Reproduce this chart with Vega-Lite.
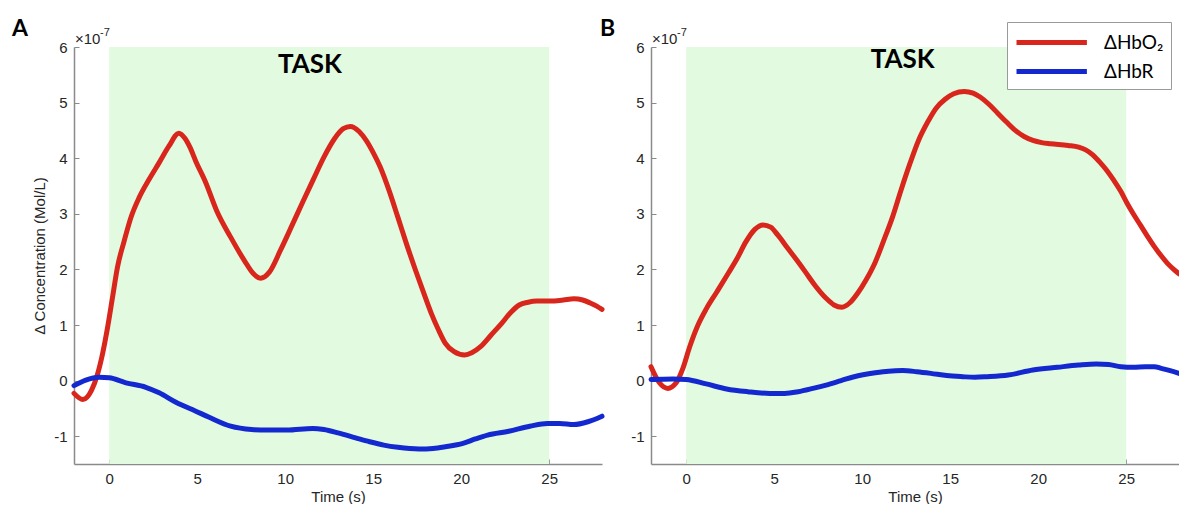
{
  "$schema": "https://vega.github.io/schema/vega-lite/v6.json",
  "background": "white",
  "padding": {"left": 12, "top": 18, "right": 0, "bottom": 0},
  "spacing": -5,
  "config": {
    "view": {"stroke": null},
    "font": "Liberation Sans",
    "axis": {
      "grid": false,
      "domainColor": "#8a8a8a",
      "domainWidth": 1.5,
      "tickColor": "#8a8a8a",
      "tickSize": -5,
      "tickWidth": 1,
      "labelFont": "Liberation Sans",
      "labelFontSize": 15,
      "labelColor": "#262626",
      "titleFont": "Liberation Sans",
      "titleFontSize": 15,
      "titleFontWeight": "normal",
      "titleColor": "#262626"
    },
    "axisX": {"labelPadding": 12, "titlePadding": 3},
    "axisY": {"labelPadding": 12, "titlePadding": 6, "format": "d", "labelExpr": "replace(datum.label, '−', '-')"}
  },
  "datasets": {
    "task": [{"start": 0, "end": 25}],
    "A": [
      {"t": -2, "conc": -0.23, "signal": "ΔHbO₂"},
      {"t": -1.5, "conc": -0.34, "signal": "ΔHbO₂"},
      {"t": -1.0, "conc": -0.17, "signal": "ΔHbO₂"},
      {"t": -0.66, "conc": 0.12, "signal": "ΔHbO₂"},
      {"t": -0.38, "conc": 0.48, "signal": "ΔHbO₂"},
      {"t": -0.09, "conc": 0.96, "signal": "ΔHbO₂"},
      {"t": 0.19, "conc": 1.5, "signal": "ΔHbO₂"},
      {"t": 0.47, "conc": 2.04, "signal": "ΔHbO₂"},
      {"t": 0.85, "conc": 2.51, "signal": "ΔHbO₂"},
      {"t": 1.23, "conc": 2.93, "signal": "ΔHbO₂"},
      {"t": 1.7, "conc": 3.29, "signal": "ΔHbO₂"},
      {"t": 2.27, "conc": 3.62, "signal": "ΔHbO₂"},
      {"t": 2.84, "conc": 3.92, "signal": "ΔHbO₂"},
      {"t": 3.4, "conc": 4.22, "signal": "ΔHbO₂"},
      {"t": 3.95, "conc": 4.45, "signal": "ΔHbO₂"},
      {"t": 4.3, "conc": 4.36, "signal": "ΔHbO₂"},
      {"t": 4.6, "conc": 4.19, "signal": "ΔHbO₂"},
      {"t": 4.9, "conc": 3.96, "signal": "ΔHbO₂"},
      {"t": 5.5, "conc": 3.55, "signal": "ΔHbO₂"},
      {"t": 6.1, "conc": 3.06, "signal": "ΔHbO₂"},
      {"t": 6.9, "conc": 2.58, "signal": "ΔHbO₂"},
      {"t": 7.7, "conc": 2.15, "signal": "ΔHbO₂"},
      {"t": 8.2, "conc": 1.92, "signal": "ΔHbO₂"},
      {"t": 8.6, "conc": 1.84, "signal": "ΔHbO₂"},
      {"t": 9.1, "conc": 1.95, "signal": "ΔHbO₂"},
      {"t": 9.74, "conc": 2.35, "signal": "ΔHbO₂"},
      {"t": 10.4, "conc": 2.8, "signal": "ΔHbO₂"},
      {"t": 10.95, "conc": 3.18, "signal": "ΔHbO₂"},
      {"t": 11.6, "conc": 3.62, "signal": "ΔHbO₂"},
      {"t": 12.2, "conc": 4.02, "signal": "ΔHbO₂"},
      {"t": 12.8, "conc": 4.35, "signal": "ΔHbO₂"},
      {"t": 13.3, "conc": 4.53, "signal": "ΔHbO₂"},
      {"t": 13.7, "conc": 4.57, "signal": "ΔHbO₂"},
      {"t": 14.2, "conc": 4.48, "signal": "ΔHbO₂"},
      {"t": 14.6, "conc": 4.32, "signal": "ΔHbO₂"},
      {"t": 15.0, "conc": 4.1, "signal": "ΔHbO₂"},
      {"t": 15.4, "conc": 3.84, "signal": "ΔHbO₂"},
      {"t": 15.9, "conc": 3.42, "signal": "ΔHbO₂"},
      {"t": 16.4, "conc": 2.94, "signal": "ΔHbO₂"},
      {"t": 16.9, "conc": 2.45, "signal": "ΔHbO₂"},
      {"t": 17.4, "conc": 1.99, "signal": "ΔHbO₂"},
      {"t": 17.9, "conc": 1.55, "signal": "ΔHbO₂"},
      {"t": 18.3, "conc": 1.21, "signal": "ΔHbO₂"},
      {"t": 18.7, "conc": 0.92, "signal": "ΔHbO₂"},
      {"t": 19.1, "conc": 0.67, "signal": "ΔHbO₂"},
      {"t": 19.6, "conc": 0.52, "signal": "ΔHbO₂"},
      {"t": 20.2, "conc": 0.46, "signal": "ΔHbO₂"},
      {"t": 20.6, "conc": 0.5, "signal": "ΔHbO₂"},
      {"t": 21.1, "conc": 0.61, "signal": "ΔHbO₂"},
      {"t": 21.7, "conc": 0.82, "signal": "ΔHbO₂"},
      {"t": 22.3, "conc": 1.03, "signal": "ΔHbO₂"},
      {"t": 22.8, "conc": 1.22, "signal": "ΔHbO₂"},
      {"t": 23.3, "conc": 1.36, "signal": "ΔHbO₂"},
      {"t": 23.8, "conc": 1.41, "signal": "ΔHbO₂"},
      {"t": 24.3, "conc": 1.43, "signal": "ΔHbO₂"},
      {"t": 25.1, "conc": 1.43, "signal": "ΔHbO₂"},
      {"t": 25.8, "conc": 1.45, "signal": "ΔHbO₂"},
      {"t": 26.4, "conc": 1.47, "signal": "ΔHbO₂"},
      {"t": 26.9, "conc": 1.45, "signal": "ΔHbO₂"},
      {"t": 27.3, "conc": 1.4, "signal": "ΔHbO₂"},
      {"t": 27.7, "conc": 1.34, "signal": "ΔHbO₂"},
      {"t": 28, "conc": 1.28, "signal": "ΔHbO₂"},
      {"t": -2, "conc": -0.09, "signal": "ΔHbR"},
      {"t": -1.33, "conc": 0.01, "signal": "ΔHbR"},
      {"t": -0.57, "conc": 0.06, "signal": "ΔHbR"},
      {"t": 0, "conc": 0.05, "signal": "ΔHbR"},
      {"t": 0.95, "conc": -0.04, "signal": "ΔHbR"},
      {"t": 2.08, "conc": -0.12, "signal": "ΔHbR"},
      {"t": 2.84, "conc": -0.22, "signal": "ΔHbR"},
      {"t": 3.79, "conc": -0.39, "signal": "ΔHbR"},
      {"t": 4.92, "conc": -0.55, "signal": "ΔHbR"},
      {"t": 5.68, "conc": -0.66, "signal": "ΔHbR"},
      {"t": 6.9, "conc": -0.82, "signal": "ΔHbR"},
      {"t": 8.1, "conc": -0.88, "signal": "ΔHbR"},
      {"t": 9.0, "conc": -0.89, "signal": "ΔHbR"},
      {"t": 10.1, "conc": -0.89, "signal": "ΔHbR"},
      {"t": 11.56, "conc": -0.86, "signal": "ΔHbR"},
      {"t": 12.2, "conc": -0.88, "signal": "ΔHbR"},
      {"t": 13.0, "conc": -0.94, "signal": "ΔHbR"},
      {"t": 14.0, "conc": -1.03, "signal": "ΔHbR"},
      {"t": 14.8, "conc": -1.1, "signal": "ΔHbR"},
      {"t": 15.6, "conc": -1.16, "signal": "ΔHbR"},
      {"t": 16.4, "conc": -1.2, "signal": "ΔHbR"},
      {"t": 17.6, "conc": -1.23, "signal": "ΔHbR"},
      {"t": 18.4, "conc": -1.22, "signal": "ΔHbR"},
      {"t": 19.1, "conc": -1.19, "signal": "ΔHbR"},
      {"t": 20.1, "conc": -1.13, "signal": "ΔHbR"},
      {"t": 20.8, "conc": -1.05, "signal": "ΔHbR"},
      {"t": 21.5, "conc": -0.98, "signal": "ΔHbR"},
      {"t": 22.7, "conc": -0.91, "signal": "ΔHbR"},
      {"t": 23.9, "conc": -0.82, "signal": "ΔHbR"},
      {"t": 24.9, "conc": -0.77, "signal": "ΔHbR"},
      {"t": 25.6, "conc": -0.77, "signal": "ΔHbR"},
      {"t": 26.4, "conc": -0.79, "signal": "ΔHbR"},
      {"t": 27.2, "conc": -0.74, "signal": "ΔHbR"},
      {"t": 28, "conc": -0.64, "signal": "ΔHbR"}
    ],
    "B": [
      {"t": -2, "conc": 0.25, "signal": "ΔHbO₂"},
      {"t": -1.52, "conc": -0.04, "signal": "ΔHbO₂"},
      {"t": -1.05, "conc": -0.14, "signal": "ΔHbO₂"},
      {"t": -0.57, "conc": -0.04, "signal": "ΔHbO₂"},
      {"t": -0.19, "conc": 0.22, "signal": "ΔHbO₂"},
      {"t": 0.19, "conc": 0.6, "signal": "ΔHbO₂"},
      {"t": 0.67, "conc": 1.0, "signal": "ΔHbO₂"},
      {"t": 1.14, "conc": 1.29, "signal": "ΔHbO₂"},
      {"t": 1.71, "conc": 1.58, "signal": "ΔHbO₂"},
      {"t": 2.39, "conc": 1.93, "signal": "ΔHbO₂"},
      {"t": 2.9, "conc": 2.2, "signal": "ΔHbO₂"},
      {"t": 3.38, "conc": 2.49, "signal": "ΔHbO₂"},
      {"t": 3.9, "conc": 2.72, "signal": "ΔHbO₂"},
      {"t": 4.37, "conc": 2.8, "signal": "ΔHbO₂"},
      {"t": 4.8, "conc": 2.76, "signal": "ΔHbO₂"},
      {"t": 5.2, "conc": 2.62, "signal": "ΔHbO₂"},
      {"t": 5.77, "conc": 2.38, "signal": "ΔHbO₂"},
      {"t": 6.3, "conc": 2.16, "signal": "ΔHbO₂"},
      {"t": 6.76, "conc": 1.96, "signal": "ΔHbO₂"},
      {"t": 7.3, "conc": 1.72, "signal": "ΔHbO₂"},
      {"t": 7.95, "conc": 1.48, "signal": "ΔHbO₂"},
      {"t": 8.4, "conc": 1.36, "signal": "ΔHbO₂"},
      {"t": 8.85, "conc": 1.32, "signal": "ΔHbO₂"},
      {"t": 9.3, "conc": 1.4, "signal": "ΔHbO₂"},
      {"t": 9.74, "conc": 1.57, "signal": "ΔHbO₂"},
      {"t": 10.2, "conc": 1.8, "signal": "ΔHbO₂"},
      {"t": 10.74, "conc": 2.13, "signal": "ΔHbO₂"},
      {"t": 11.2, "conc": 2.5, "signal": "ΔHbO₂"},
      {"t": 11.73, "conc": 2.95, "signal": "ΔHbO₂"},
      {"t": 12.2, "conc": 3.42, "signal": "ΔHbO₂"},
      {"t": 12.72, "conc": 3.91, "signal": "ΔHbO₂"},
      {"t": 13.2, "conc": 4.32, "signal": "ΔHbO₂"},
      {"t": 13.72, "conc": 4.65, "signal": "ΔHbO₂"},
      {"t": 14.2, "conc": 4.9, "signal": "ΔHbO₂"},
      {"t": 14.71, "conc": 5.06, "signal": "ΔHbO₂"},
      {"t": 15.2, "conc": 5.16, "signal": "ΔHbO₂"},
      {"t": 15.8, "conc": 5.2, "signal": "ΔHbO₂"},
      {"t": 16.3, "conc": 5.17, "signal": "ΔHbO₂"},
      {"t": 16.7, "conc": 5.1, "signal": "ΔHbO₂"},
      {"t": 17.2, "conc": 4.97, "signal": "ΔHbO₂"},
      {"t": 17.7, "conc": 4.81, "signal": "ΔHbO₂"},
      {"t": 18.2, "conc": 4.65, "signal": "ΔHbO₂"},
      {"t": 18.7, "conc": 4.5, "signal": "ΔHbO₂"},
      {"t": 19.2, "conc": 4.39, "signal": "ΔHbO₂"},
      {"t": 19.7, "conc": 4.32, "signal": "ΔHbO₂"},
      {"t": 20.2, "conc": 4.28, "signal": "ΔHbO₂"},
      {"t": 20.7, "conc": 4.26, "signal": "ΔHbO₂"},
      {"t": 21.7, "conc": 4.23, "signal": "ΔHbO₂"},
      {"t": 22.3, "conc": 4.2, "signal": "ΔHbO₂"},
      {"t": 22.7, "conc": 4.15, "signal": "ΔHbO₂"},
      {"t": 23.1, "conc": 4.06, "signal": "ΔHbO₂"},
      {"t": 23.5, "conc": 3.93, "signal": "ΔHbO₂"},
      {"t": 23.9, "conc": 3.78, "signal": "ΔHbO₂"},
      {"t": 24.3, "conc": 3.6, "signal": "ΔHbO₂"},
      {"t": 24.7, "conc": 3.4, "signal": "ΔHbO₂"},
      {"t": 25.05, "conc": 3.19, "signal": "ΔHbO₂"},
      {"t": 25.4, "conc": 3.0, "signal": "ΔHbO₂"},
      {"t": 25.8, "conc": 2.8, "signal": "ΔHbO₂"},
      {"t": 26.2, "conc": 2.6, "signal": "ΔHbO₂"},
      {"t": 26.6, "conc": 2.41, "signal": "ΔHbO₂"},
      {"t": 27.0, "conc": 2.24, "signal": "ΔHbO₂"},
      {"t": 27.4, "conc": 2.09, "signal": "ΔHbO₂"},
      {"t": 27.7, "conc": 2.0, "signal": "ΔHbO₂"},
      {"t": 28, "conc": 1.92, "signal": "ΔHbO₂"},
      {"t": -2, "conc": 0.02, "signal": "ΔHbR"},
      {"t": -0.76, "conc": 0.03, "signal": "ΔHbR"},
      {"t": 0, "conc": 0.02, "signal": "ΔHbR"},
      {"t": 1.14, "conc": -0.06, "signal": "ΔHbR"},
      {"t": 2.29, "conc": -0.15, "signal": "ΔHbR"},
      {"t": 3.5, "conc": -0.2, "signal": "ΔHbR"},
      {"t": 4.76, "conc": -0.23, "signal": "ΔHbR"},
      {"t": 5.6, "conc": -0.23, "signal": "ΔHbR"},
      {"t": 6.36, "conc": -0.2, "signal": "ΔHbR"},
      {"t": 7.2, "conc": -0.14, "signal": "ΔHbR"},
      {"t": 7.95, "conc": -0.08, "signal": "ΔHbR"},
      {"t": 8.8, "conc": 0.0, "signal": "ΔHbR"},
      {"t": 9.54, "conc": 0.07, "signal": "ΔHbR"},
      {"t": 10.74, "conc": 0.14, "signal": "ΔHbR"},
      {"t": 11.5, "conc": 0.17, "signal": "ΔHbR"},
      {"t": 12.3, "conc": 0.18, "signal": "ΔHbR"},
      {"t": 13.1, "conc": 0.16, "signal": "ΔHbR"},
      {"t": 13.9, "conc": 0.13, "signal": "ΔHbR"},
      {"t": 14.8, "conc": 0.09, "signal": "ΔHbR"},
      {"t": 15.7, "conc": 0.07, "signal": "ΔHbR"},
      {"t": 16.4, "conc": 0.06, "signal": "ΔHbR"},
      {"t": 17.1, "conc": 0.07, "signal": "ΔHbR"},
      {"t": 18.3, "conc": 0.1, "signal": "ΔHbR"},
      {"t": 19.7, "conc": 0.19, "signal": "ΔHbR"},
      {"t": 21.1, "conc": 0.24, "signal": "ΔHbR"},
      {"t": 22.3, "conc": 0.28, "signal": "ΔHbR"},
      {"t": 23.3, "conc": 0.3, "signal": "ΔHbR"},
      {"t": 24.0, "conc": 0.29, "signal": "ΔHbR"},
      {"t": 24.7, "conc": 0.25, "signal": "ΔHbR"},
      {"t": 25.4, "conc": 0.24, "signal": "ΔHbR"},
      {"t": 26.1, "conc": 0.25, "signal": "ΔHbR"},
      {"t": 26.6, "conc": 0.25, "signal": "ΔHbR"},
      {"t": 27.0, "conc": 0.22, "signal": "ΔHbR"},
      {"t": 27.5, "conc": 0.18, "signal": "ΔHbR"},
      {"t": 28, "conc": 0.13, "signal": "ΔHbR"}
    ]
  },
  "resolve": {"scale": {"color": "independent"}},
  "hconcat": [
    {
      "width": 528,
      "height": 417,
      "layer": [
        {
          "data": {"name": "task"},
          "mark": {"type": "rect", "color": "#e2fae0"},
          "encoding": {
            "x": {"field": "start", "type": "quantitative", "scale": {"domain": [-2, 28], "nice": false, "zero": false}, "axis": {"values": [0, 5, 10, 15, 20, 25], "title": "Time (s)"}},
            "x2": {"field": "end"},
            "y": {"datum": -1.5, "type": "quantitative", "scale": {"domain": [-1.5, 6], "nice": false, "zero": false}, "axis": {"values": [-1, 0, 1, 2, 3, 4, 5, 6], "title": "Δ Concentration (Mol/L)"}},
            "y2": {"datum": 6}
          }
        },
        {
          "data": {"name": "A"},
          "mark": {"type": "line", "strokeWidth": 5, "interpolate": "monotone", "strokeCap": "round", "strokeJoin": "round"},
          "encoding": {
            "x": {"field": "t", "type": "quantitative", "scale": {"domain": [-2, 28], "nice": false, "zero": false}},
            "y": {"field": "conc", "type": "quantitative", "scale": {"domain": [-1.5, 6], "nice": false, "zero": false}},
            "color": {"field": "signal", "type": "nominal", "scale": {"domain": ["ΔHbO₂", "ΔHbR"], "range": ["#d8261c", "#1428d0"]}, "legend": null}
          }
        },
        {
          "data": {"values": [{}]},
          "mark": {"type": "text", "align": "left", "baseline": "alphabetic", "dx": 1, "dy": -3, "fontSize": 15, "font": "Liberation Sans", "color": "#262626"},
          "encoding": {"x": {"datum": -2}, "y": {"datum": 6}, "text": {"value": "×10"}}
        },
        {
          "data": {"values": [{}]},
          "mark": {"type": "text", "align": "left", "baseline": "alphabetic", "dx": 26, "dy": -11, "fontSize": 11, "font": "Liberation Sans", "color": "#262626"},
          "encoding": {"x": {"datum": -2}, "y": {"datum": 6}, "text": {"value": "-7"}}
        },
        {
          "data": {"values": [{}]},
          "mark": {"type": "text", "align": "center", "baseline": "middle", "fontSize": 26, "font": "Lato", "fontWeight": "bold", "color": "black"},
          "encoding": {"x": {"datum": 11.4}, "y": {"datum": 5.67}, "text": {"value": "TASK"}}
        },
        {
          "data": {"values": [{}]},
          "mark": {"type": "text", "align": "left", "baseline": "alphabetic", "dx": -62, "dy": -11, "fontSize": 23, "font": "Lato", "fontWeight": "bold", "color": "black"},
          "encoding": {"x": {"datum": -2}, "y": {"datum": 6}, "text": {"value": "A"}}
        }
      ]
    },
    {
      "width": 528,
      "height": 417,
      "layer": [
        {
          "data": {"name": "task"},
          "mark": {"type": "rect", "color": "#e2fae0"},
          "encoding": {
            "x": {"field": "start", "type": "quantitative", "scale": {"domain": [-2, 28], "nice": false, "zero": false}, "axis": {"values": [0, 5, 10, 15, 20, 25], "title": "Time (s)"}},
            "x2": {"field": "end"},
            "y": {"datum": -1.5, "type": "quantitative", "scale": {"domain": [-1.5, 6], "nice": false, "zero": false}, "axis": {"values": [-1, 0, 1, 2, 3, 4, 5, 6], "title": null}},
            "y2": {"datum": 6}
          }
        },
        {
          "data": {"name": "B"},
          "mark": {"type": "line", "strokeWidth": 5, "interpolate": "monotone", "strokeCap": "round", "strokeJoin": "round"},
          "encoding": {
            "x": {"field": "t", "type": "quantitative", "scale": {"domain": [-2, 28], "nice": false, "zero": false}},
            "y": {"field": "conc", "type": "quantitative", "scale": {"domain": [-1.5, 6], "nice": false, "zero": false}},
            "color": {
              "field": "signal", "type": "nominal",
              "scale": {"domain": ["ΔHbO₂", "ΔHbR"], "range": ["#d8261c", "#1428d0"]},
              "legend": {
                "title": null, "orient": "none", "legendX": 356, "legendY": -25,
                "symbolType": "M-1,0H5.4", "symbolSize": 484, "symbolStrokeWidth": 5,
                "labelFont": "Lato", "labelFontSize": 19, "labelColor": "black", "labelOffset": 63,
                "strokeColor": "#9a9a9a", "fillColor": "white", "padding": 7, "rowPadding": 5
              }
            }
          }
        },
        {
          "data": {"values": [{}]},
          "mark": {"type": "text", "align": "left", "baseline": "alphabetic", "dx": 1, "dy": -3, "fontSize": 15, "font": "Liberation Sans", "color": "#262626"},
          "encoding": {"x": {"datum": -2}, "y": {"datum": 6}, "text": {"value": "×10"}}
        },
        {
          "data": {"values": [{}]},
          "mark": {"type": "text", "align": "left", "baseline": "alphabetic", "dx": 26, "dy": -11, "fontSize": 11, "font": "Liberation Sans", "color": "#262626"},
          "encoding": {"x": {"datum": -2}, "y": {"datum": 6}, "text": {"value": "-7"}}
        },
        {
          "data": {"values": [{}]},
          "mark": {"type": "text", "align": "center", "baseline": "middle", "fontSize": 26, "font": "Lato", "fontWeight": "bold", "color": "black"},
          "encoding": {"x": {"datum": 12.3}, "y": {"datum": 5.76}, "text": {"value": "TASK"}}
        },
        {
          "data": {"values": [{}]},
          "mark": {"type": "text", "align": "left", "baseline": "alphabetic", "dx": -51, "dy": -11, "fontSize": 23, "font": "Lato", "fontWeight": "bold", "color": "black"},
          "encoding": {"x": {"datum": -2}, "y": {"datum": 6}, "text": {"value": "B"}}
        }
      ]
    }
  ]
}
